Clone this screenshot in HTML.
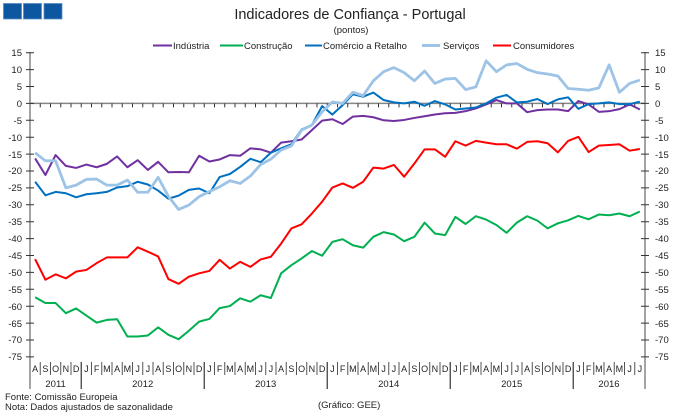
<!DOCTYPE html>
<html><head><meta charset="utf-8"><style>
html,body{margin:0;padding:0;background:#fff;}
svg{display:block;font-family:"Liberation Sans",Arial,sans-serif;}
</style></head><body>
<svg width="680" height="417" viewBox="0 0 680 417" xmlns="http://www.w3.org/2000/svg">
<rect width="680" height="417" fill="#fff"/>
<!-- logo -->
<rect x="3.5" y="3.5" width="18" height="15.5" fill="#0d56a0" stroke="#5a8cc4" stroke-width="0.8"/>
<rect x="23.5" y="3.5" width="18" height="15.5" fill="#0d56a0" stroke="#5a8cc4" stroke-width="0.8"/>
<rect x="44" y="3.5" width="18" height="15.5" fill="#0d56a0" stroke="#5a8cc4" stroke-width="0.8"/>
<!-- title -->
<text x="350" y="19" font-size="14.5" text-anchor="middle" fill="#222">Indicadores de Confiança - Portugal</text>
<text x="351" y="33" font-size="9.5" text-anchor="middle" fill="#222">(pontos)</text>
<!-- legend -->
<g font-size="9.5" fill="#222">
<line x1="153" y1="45.5" x2="172" y2="45.5" stroke="#7030a0" stroke-width="2"/><text x="173" y="49">Indústria</text>
<line x1="220" y1="45.5" x2="243" y2="45.5" stroke="#00b050" stroke-width="2"/><text x="244" y="49">Construção</text>
<line x1="305" y1="45.5" x2="322" y2="45.5" stroke="#0070c0" stroke-width="2"/><text x="323" y="49">Comércio a Retalho</text>
<line x1="422" y1="45.5" x2="440" y2="45.5" stroke="#9dc3e6" stroke-width="3"/><text x="443" y="49">Serviços</text>
<line x1="493" y1="45.5" x2="511" y2="45.5" stroke="#ff0000" stroke-width="2"/><text x="513" y="49">Consumidores</text>
</g>
<!-- axes -->
<line x1="30" y1="52" x2="30" y2="389" stroke="#868686" stroke-width="1.5"/>
<line x1="645" y1="52" x2="645" y2="389" stroke="#868686" stroke-width="1.5"/>
<line x1="30" y1="103.4" x2="645" y2="103.4" stroke="#868686" stroke-width="1.5"/>
<g id="yt" stroke="#333" stroke-width="1">
<path d="M26 52.7H34M26 69.6H34M26 86.5H34M26 103.4H34M26 120.3H34M26 137.2H34M26 154.1H34M26 171H34M26 187.9H34M26 204.8H34M26 221.7H34M26 238.6H34M26 255.5H34M26 272.4H34M26 289.3H34M26 306.2H34M26 323.1H34M26 340H34M26 356.9H34"/>
<path d="M641 52.7H649M641 69.6H649M641 86.5H649M641 103.4H649M641 120.3H649M641 137.2H649M641 154.1H649M641 171H649M641 187.9H649M641 204.8H649M641 221.7H649M641 238.6H649M641 255.5H649M641 272.4H649M641 289.3H649M641 306.2H649M641 323.1H649M641 340H649M641 356.9H649"/>
</g>
<g font-size="9.5" fill="#222" text-anchor="end">
<text x="22" y="56">15</text><text x="22" y="73">10</text><text x="22" y="90">5</text><text x="22" y="107">0</text><text x="22" y="124">-5</text><text x="22" y="141">-10</text><text x="22" y="158">-15</text><text x="22" y="174">-20</text><text x="22" y="191">-25</text><text x="22" y="208">-30</text><text x="22" y="225">-35</text><text x="22" y="242">-40</text><text x="22" y="259">-45</text><text x="22" y="276">-50</text><text x="22" y="293">-55</text><text x="22" y="310">-60</text><text x="22" y="327">-65</text><text x="22" y="343">-70</text><text x="22" y="360">-75</text>
</g>
<g font-size="9.5" fill="#222">
<text x="655" y="56">15</text><text x="655" y="73">10</text><text x="655" y="90">5</text><text x="655" y="107">0</text><text x="655" y="124">-5</text><text x="655" y="141">-10</text><text x="655" y="158">-15</text><text x="655" y="174">-20</text><text x="655" y="191">-25</text><text x="655" y="208">-30</text><text x="655" y="225">-35</text><text x="655" y="242">-40</text><text x="655" y="259">-45</text><text x="655" y="276">-50</text><text x="655" y="293">-55</text><text x="655" y="310">-60</text><text x="655" y="327">-65</text><text x="655" y="343">-70</text><text x="655" y="360">-75</text>
</g>
<!-- zero-line ticks -->
<g stroke="#333" stroke-width="1">
<path d="M40.25 103.4v4M50.5 103.4v4M60.75 103.4v4M71 103.4v4M81.25 103.4v4M91.5 103.4v4M101.75 103.4v4M112 103.4v4M122.25 103.4v4M132.5 103.4v4M142.75 103.4v4M153 103.4v4M163.25 103.4v4M173.5 103.4v4M183.75 103.4v4M194 103.4v4M204.25 103.4v4M214.5 103.4v4M224.75 103.4v4M235 103.4v4M245.25 103.4v4M255.5 103.4v4M265.75 103.4v4M276 103.4v4M286.25 103.4v4M296.5 103.4v4M306.75 103.4v4M317 103.4v4M327.25 103.4v4M337.5 103.4v4M347.75 103.4v4M358 103.4v4M368.25 103.4v4M378.5 103.4v4M388.75 103.4v4M399 103.4v4M409.25 103.4v4M419.5 103.4v4M429.75 103.4v4M440 103.4v4M450.25 103.4v4M460.5 103.4v4M470.75 103.4v4M481 103.4v4M491.25 103.4v4M501.5 103.4v4M511.75 103.4v4M522 103.4v4M532.25 103.4v4M542.5 103.4v4M552.75 103.4v4M563 103.4v4M573.25 103.4v4M583.5 103.4v4M593.75 103.4v4M604 103.4v4M614.25 103.4v4M624.5 103.4v4M634.75 103.4v4"/>
</g>
<!-- month separators -->
<g stroke="#555" stroke-width="1">
<path d="M40.25 362v13M50.5 362v13M60.75 362v13M71 362v13M91.5 362v13M101.75 362v13M112 362v13M122.25 362v13M132.5 362v13M142.75 362v13M153 362v13M163.25 362v13M173.5 362v13M183.75 362v13M194 362v13M214.5 362v13M224.75 362v13M235 362v13M245.25 362v13M255.5 362v13M265.75 362v13M276 362v13M286.25 362v13M296.5 362v13M306.75 362v13M317 362v13M337.5 362v13M347.75 362v13M358 362v13M368.25 362v13M378.5 362v13M388.75 362v13M399 362v13M409.25 362v13M419.5 362v13M429.75 362v13M440 362v13M460.5 362v13M470.75 362v13M481 362v13M491.25 362v13M501.5 362v13M511.75 362v13M522 362v13M532.25 362v13M542.5 362v13M552.75 362v13M563 362v13M583.5 362v13M593.75 362v13M604 362v13M614.25 362v13M624.5 362v13M634.75 362v13"/>
</g>
<g stroke="#444" stroke-width="1.3">
<path d="M81.25 362v27M204.25 362v27M327.25 362v27M450.25 362v27M573.25 362v27"/>
</g>
<g font-size="9" fill="#222" text-anchor="middle">
<text x="35.1" y="372">A</text><text x="45.4" y="372">S</text><text x="55.6" y="372">O</text><text x="65.9" y="372">N</text><text x="76.1" y="372">D</text>
<text x="86.4" y="372">J</text><text x="96.6" y="372">F</text><text x="106.9" y="372">M</text><text x="117.1" y="372">A</text><text x="127.4" y="372">M</text><text x="137.6" y="372">J</text><text x="147.9" y="372">J</text><text x="158.1" y="372">A</text><text x="168.4" y="372">S</text><text x="178.6" y="372">O</text><text x="188.9" y="372">N</text><text x="199.1" y="372">D</text>
<text x="209.4" y="372">J</text><text x="219.6" y="372">F</text><text x="229.9" y="372">M</text><text x="240.1" y="372">A</text><text x="250.4" y="372">M</text><text x="260.6" y="372">J</text><text x="270.9" y="372">J</text><text x="281.1" y="372">A</text><text x="291.4" y="372">S</text><text x="301.6" y="372">O</text><text x="311.9" y="372">N</text><text x="322.1" y="372">D</text>
<text x="332.4" y="372">J</text><text x="342.6" y="372">F</text><text x="352.9" y="372">M</text><text x="363.1" y="372">A</text><text x="373.4" y="372">M</text><text x="383.6" y="372">J</text><text x="393.9" y="372">J</text><text x="404.1" y="372">A</text><text x="414.4" y="372">S</text><text x="424.6" y="372">O</text><text x="434.9" y="372">N</text><text x="445.1" y="372">D</text>
<text x="455.4" y="372">J</text><text x="465.6" y="372">F</text><text x="475.9" y="372">M</text><text x="486.1" y="372">A</text><text x="496.4" y="372">M</text><text x="506.6" y="372">J</text><text x="516.9" y="372">J</text><text x="527.1" y="372">A</text><text x="537.4" y="372">S</text><text x="547.6" y="372">O</text><text x="557.9" y="372">N</text><text x="568.1" y="372">D</text>
<text x="578.4" y="372">J</text><text x="588.6" y="372">F</text><text x="598.9" y="372">M</text><text x="609.1" y="372">A</text><text x="619.4" y="372">M</text><text x="629.6" y="372">J</text><text x="639.9" y="372">J</text>
</g>
<g font-size="9.5" fill="#222" text-anchor="middle">
<text x="55.6" y="387">2011</text><text x="142.7" y="387">2012</text><text x="265.7" y="387">2013</text><text x="388.7" y="387">2014</text><text x="511.7" y="387">2015</text><text x="609" y="387">2016</text>
</g>
<!-- footer -->
<g font-size="9.5" fill="#222">
<text x="5" y="400">Fonte: Comissão Europeia</text>
<text x="5" y="410">Nota: Dados ajustados de sazonalidade</text>
<text x="318" y="408">(Gráfico: GEE)</text>
</g>
<!-- series -->
<g transform="matrix(10.25 0 0 -3.378 35.125 103.4)" fill="none" stroke-linejoin="round">
<polyline vector-effect="non-scaling-stroke" stroke="#7030a0" stroke-width="2" points="0,-16.3 1,-21.2 2,-15.3 3,-18.5 4,-19.1 5,-18.1 6,-18.9 7,-17.9 8,-15.7 9,-18.9 10,-16.8 11,-19.7 12,-17.3 13,-20.4 14,-20.3 15,-20.4 16,-15.5 17,-17.2 18,-16.6 19,-15.3 20,-15.5 21,-13.3 22,-13.6 23,-14.6 24,-11.6 25,-11.2 26,-10.7 27,-7.9 28,-5.1 29,-4.7 30,-6.1 31,-3.9 32,-3.7 33,-4.1 34,-5.0 35,-5.2 36,-4.9 37,-4.3 38,-3.8 39,-3.3 40,-2.9 41,-2.8 42,-2.3 43,-1.5 44,-0.3 45,1.0 46,0 47,0 48,-2.6 49,-2.0 50,-1.8 51,-1.8 52,-2.3 53,0.7 54,-0.3 55,-2.5 56,-2.3 57,-1.7 58,-0.3 59,-1.8"/>
<polyline vector-effect="non-scaling-stroke" stroke="#00b050" stroke-width="2" points="0,-57.4 1,-59.1 2,-59.1 3,-62.1 4,-60.7 5,-62.8 6,-64.9 7,-64.1 8,-63.9 9,-69.0 10,-69.0 11,-68.7 12,-66.3 13,-68.5 14,-69.8 15,-67.3 16,-64.6 17,-63.8 18,-60.6 19,-60.0 20,-57.7 21,-58.7 22,-56.8 23,-57.6 24,-50.3 25,-47.9 26,-45.9 27,-43.7 28,-45.1 29,-41.0 30,-40.2 31,-42.0 32,-42.7 33,-39.5 34,-38.1 35,-38.8 36,-40.8 37,-39.5 38,-35.3 39,-38.5 40,-39.0 41,-33.6 42,-35.7 43,-33.4 44,-34.4 45,-36.0 46,-38.3 47,-35.3 48,-33.4 49,-34.7 50,-37.0 51,-35.5 52,-34.6 53,-33.3 54,-34.3 55,-32.9 56,-33.1 57,-32.6 58,-33.4 59,-32.0"/>
<polyline vector-effect="non-scaling-stroke" stroke="#0070c0" stroke-width="2" points="0,-23.2 1,-27.2 2,-26.2 3,-26.6 4,-27.8 5,-26.9 6,-26.6 7,-26.2 8,-24.9 9,-24.5 10,-23.2 11,-24.0 12,-25.8 13,-28.2 14,-27.3 15,-25.6 16,-25.2 17,-26.6 18,-21.8 19,-20.9 20,-18.8 21,-16.4 22,-17.4 23,-14.6 24,-13.3 25,-12.1 26,-7.7 27,-6.4 28,-0.8 29,-3.3 30,-0.5 31,2.7 32,2.0 33,3.2 34,1.0 35,0.3 36,0 37,0.5 38,-0.7 39,0.7 40,-0.3 41,-1.8 42,-1.5 43,-1.2 44,0 45,1.7 46,2.5 47,0.3 48,0.5 49,1.3 50,-0.2 51,1.2 52,1.8 53,-1.6 54,-0.2 55,0 56,0.3 57,-0.2 58,-0.2 59,0.5"/>
<polyline vector-effect="non-scaling-stroke" stroke="#9dc3e6" stroke-width="2.8" points="0,-14.6 1,-17.0 2,-17.0 3,-25.0 4,-24.2 5,-22.5 6,-22.4 7,-24.2 8,-24.2 9,-22.7 10,-26.3 11,-26.3 12,-21.9 13,-27.5 14,-31.4 15,-30.1 16,-27.6 17,-26.1 18,-24.7 19,-22.9 20,-23.7 21,-21.5 22,-18.1 23,-16.5 24,-13.8 25,-12.6 26,-7.9 27,-6.4 28,-2.5 29,0.4 30,0 31,3.3 32,2.3 33,6.7 34,9.4 35,10.6 36,9.1 37,6.7 38,9.6 39,5.9 40,7.2 41,7.4 42,4.1 43,4.9 44,12.6 45,9.4 46,11.4 47,11.8 48,10.1 49,9.1 50,8.7 51,8.1 52,4.4 53,4.2 54,3.9 55,4.6 56,11.4 57,3.3 58,5.9 59,6.9"/>
<polyline vector-effect="non-scaling-stroke" stroke="#ff0000" stroke-width="2" points="0,-46.1 1,-52.2 2,-50.6 3,-51.8 4,-49.8 5,-49.3 6,-47.3 7,-45.6 8,-45.6 9,-45.6 10,-42.6 11,-43.9 12,-45.3 13,-52.0 14,-53.4 15,-51.3 16,-50.3 17,-49.6 18,-46.3 19,-48.9 20,-46.9 21,-48.4 22,-46.2 23,-45.4 24,-41.5 25,-37.0 26,-35.8 27,-32.6 28,-29.1 29,-24.9 30,-23.7 31,-25.0 32,-23.2 33,-19.0 34,-19.3 35,-18.2 36,-21.7 37,-17.8 38,-13.6 39,-13.6 40,-15.8 41,-11.2 42,-12.5 43,-11.1 44,-11.6 45,-12.1 46,-12.1 47,-13.4 48,-11.4 49,-11.2 50,-11.8 51,-14.5 52,-11.1 53,-9.9 54,-14.4 55,-12.5 56,-12.3 57,-12.1 58,-14.0 59,-13.5"/>
</g>
</svg>
</body></html>
